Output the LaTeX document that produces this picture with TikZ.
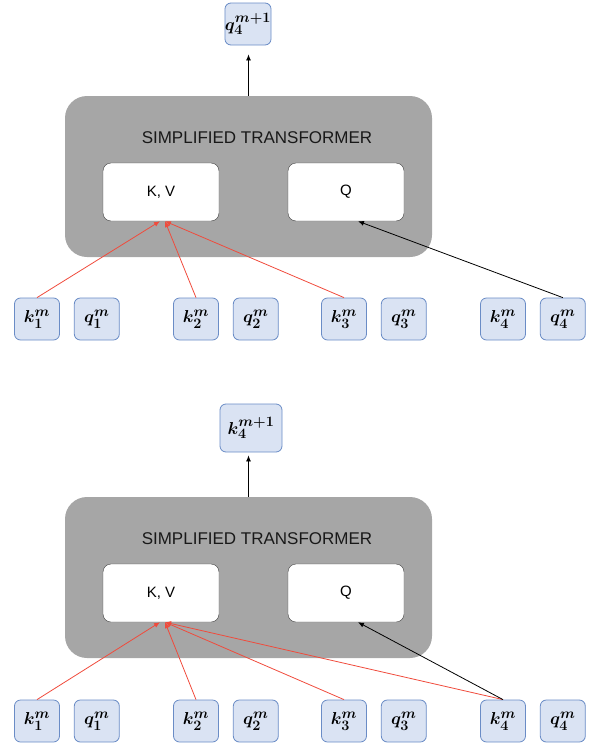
\documentclass[tikz,border=0pt]{standalone}
\usepackage{fontspec}
\setsansfont{Liberation Sans}
\usetikzlibrary{arrows.meta,positioning}
\definecolor{tokfill}{HTML}{DAE3F3}
\definecolor{tokdraw}{HTML}{6A8CC6}
\definecolor{panelgray}{HTML}{A6A6A6}
\definecolor{attnred}{HTML}{F04B3C}

\begin{document}
\begin{tikzpicture}[
  x=1pt,y=-1pt,
  every node/.style={inner sep=0pt},
  tokbox/.style={draw=tokdraw,line width=0.8pt,fill=tokfill,rounded corners=6pt,minimum width=45pt,minimum height=42pt,font=\fontsize{19}{21}\selectfont\boldmath},
  panel/.style={fill=panelgray,rounded corners=22pt,minimum width=367pt,minimum height=161pt},
  unitbox/.style={draw=black!75,fill=white,rounded corners=8pt,minimum width=116pt,minimum height=58pt,font=\sffamily\fontsize{15}{17}\selectfont},
  heading/.style={font=\sffamily\fontsize{17}{20}\selectfont,text=black!90},
  redarr/.style={-{Latex[length=6pt,width=5pt]},draw=attnred,line width=0.8pt},
  blkarr/.style={-{Latex[length=6pt,width=5pt]},draw=black,line width=0.8pt}
]
\useasboundingbox (0,0) rectangle (592,744);

% upper step: query of token 4
\node[panel] (panelA) at (248.5,176.5) {};
\node[heading] (titleA) at (257,138) {SIMPLIFIED TRANSFORMER};
\node[unitbox] (kvA) at (161,192) {K, V};
\node[unitbox] (qA) at (346,192) {Q};
\node[tokbox] (outA) at (248,24) {$q_4^{m+1}$};
\node[tokbox] (k1A) at (37,319) {$k_1^m$};
\node[tokbox,right=14pt of k1A] (q1A) {$q_1^m$};
\node[tokbox] (k2A) at (196,319) {$k_2^m$};
\node[tokbox,right=14pt of k2A] (q2A) {$q_2^m$};
\node[tokbox] (k3A) at (344,319) {$k_3^m$};
\node[tokbox,right=14pt of k3A] (q3A) {$q_3^m$};
\node[tokbox] (k4A) at (503,319) {$k_4^m$};
\node[tokbox,right=14pt of k4A] (q4A) {$q_4^m$};
\draw[blkarr,shorten >=9pt] (panelA.north) -- (panelA.north |- outA.south);
\draw[redarr] (k1A.north) -- ([xshift=-1pt]kvA.south);
\draw[redarr] (k2A.north) -- ([xshift=4pt]kvA.south);
\draw[redarr] (k3A.north) -- ([xshift=4pt]kvA.south);
\draw[blkarr] (q4A.north) -- ([xshift=12pt]qA.south);

% lower step: key of token 4
\node[panel] (panelB) at (248.5,577.5) {};
\node[heading] (titleB) at (257,539) {SIMPLIFIED TRANSFORMER};
\node[unitbox] (kvB) at (161,593) {K, V};
\node[unitbox] (qB) at (346,593) {Q};
\node[tokbox,minimum width=62pt,minimum height=48pt] (outB) at (251,428) {$k_4^{m+1}$};
\node[tokbox] (k1B) at (37,721) {$k_1^m$};
\node[tokbox,right=14pt of k1B] (q1B) {$q_1^m$};
\node[tokbox] (k2B) at (196,721) {$k_2^m$};
\node[tokbox,right=14pt of k2B] (q2B) {$q_2^m$};
\node[tokbox] (k3B) at (344,721) {$k_3^m$};
\node[tokbox,right=14pt of k3B] (q3B) {$q_3^m$};
\node[tokbox] (k4B) at (503,721) {$k_4^m$};
\node[tokbox,right=14pt of k4B] (q4B) {$q_4^m$};
\draw[blkarr,shorten >=3pt] (panelB.north) -- (panelB.north |- outB.south);
\draw[redarr] (k1B.north) -- ([xshift=-1pt]kvB.south);
\draw[redarr] (k2B.north) -- ([xshift=4pt]kvB.south);
\draw[redarr] (k3B.north) -- ([xshift=4pt]kvB.south);
\draw[redarr] (k4B.north) -- ([xshift=4pt]kvB.south);
\draw[blkarr] (k4B.north) -- ([xshift=12pt]qB.south);
\end{tikzpicture}
\end{document}
